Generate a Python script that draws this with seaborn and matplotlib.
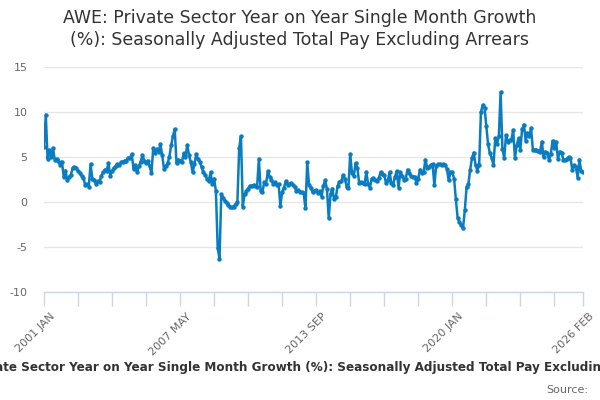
import numpy as np
import pandas as pd
import matplotlib
matplotlib.use('Agg')
import matplotlib.pyplot as plt
import seaborn as sns

# ==========================================
# data
# ==========================================
title = "AWE: Private Sector Year on Year Single Month Growth\n(%): Seasonally Adjusted Total Pay Excluding Arrears"
x_title = "AWE: Private Sector Year on Year Single Month Growth (%): Seasonally Adjusted Total Pay Excluding Arrears"
source_text = "Source:"

start_month = "2001-01"

values = [
    # 2001
    6.1, 9.7, 4.8, 5.8, 5.0, 6.0, 4.7, 4.8, 4.6, 4.1, 4.5, 2.8,
    # 2002
    3.5, 2.4, 2.8, 3.0, 3.8, 3.9, 3.8, 3.4, 3.2, 2.9, 2.7, 1.9,
    # 2003
    2.0, 1.7, 4.2, 2.6, 2.5, 2.0, 2.3, 2.2, 2.9, 3.3, 3.6, 3.5,
    # 2004
    4.3, 2.9, 3.5, 3.8, 4.0, 4.2, 4.1, 4.4, 4.5, 4.6, 4.6, 4.9,
    # 2005
    4.9, 5.3, 3.7, 4.1, 3.3, 4.0, 4.5, 5.2, 4.6, 4.3, 4.6, 4.0,
    # 2006
    3.2, 6.0, 5.5, 5.9, 5.6, 6.4, 5.2, 3.7, 4.0, 4.3, 5.0, 6.3,
    # 2007
    7.3, 8.1, 4.3, 4.7, 4.6, 4.4, 5.4, 5.0, 6.3, 5.2, 4.4, 3.3,
    # 2008
    4.2, 5.3, 4.8, 4.5, 3.9, 3.3, 3.0, 2.6, 2.3, 3.3, 2.0, 2.6,
    # 2009
    1.2, -5.1, -6.3, 0.85, 0.5, 0.1, -0.1, -0.3, -0.6, -0.6, -0.5, -0.2,
    # 2010
    0.0, 6.0, 7.3, -0.5, 0.85, 1.2, 1.5, 1.8, 1.8, 1.9, 1.8, 1.7,
    # 2011
    4.8, 1.2, 1.1, 2.2, 2.0, 3.4, 2.8, 2.5, 2.0, 2.2, 1.9, 2.0,
    # 2012
    -0.4, 1.1, 1.6, 2.3, 1.9, 2.0, 2.1, 1.9, 1.7, 1.2, 1.3, 1.1,
    # 2013
    1.1, 1.0, -0.7, 4.4, 1.9, 1.6, 1.1, 1.2, 1.3, 1.0, 1.2, 0.6,
    # 2014
    1.8, 2.4, 1.5, -1.8, 0.9, 1.5, 0.3, 0.6, 1.8, 2.2, 2.3, 3.0,
    # 2015
    2.6, 1.7, 1.6, 5.3, 3.2, 2.9, 4.3, 3.8, 2.1, 2.2, 2.1, 2.0,
    # 2016
    3.3, 2.0, 1.6, 2.6, 2.7, 2.5, 2.3, 2.7, 3.3, 3.1, 3.0, 2.1,
    # 2017
    2.4, 3.3, 2.1, 1.9, 2.8, 3.4, 1.6, 3.3, 2.9, 2.5, 2.6, 3.6,
    # 2018
    3.2, 2.9, 2.8, 2.8, 2.1, 2.6, 3.6, 3.2, 3.3, 4.7, 3.8, 3.9,
    # 2019
    4.1, 4.2, 1.9, 4.0, 4.2, 4.2, 4.1, 4.2, 4.1, 3.7, 2.4, 3.3,
    # 2020
    3.3, 2.6, 0.3, -1.8, -2.2, -2.6, -2.9, -0.9, 1.7, 2.0, 3.6, 4.9,
    # 2021
    5.5, 4.1, 3.5, 4.1, 10.0, 10.8, 10.5, 8.5, 6.4, 5.4, 4.9, 4.1,
    # 2022
    7.1, 6.5, 7.3, 12.2, 5.9, 4.9, 7.4, 6.7, 6.9, 6.9, 8.0, 4.9,
    # 2023
    6.3, 7.1, 5.8, 8.1, 8.6, 6.8, 7.7, 7.3, 8.2, 5.8, 5.8, 5.8,
    # 2024
    5.7, 5.6, 6.7, 5.0, 5.6, 5.5, 4.7, 5.3, 6.8, 6.0, 6.7, 4.8,
    # 2025
    5.6, 5.5, 4.7, 4.7, 4.8, 5.0, 4.9, 3.6, 4.1, 3.9, 2.7, 4.7,
    # 2026
    3.4, 3.3,
]

y_ticks = [-10, -5, 0, 5, 10, 15]
minor_step = 19
label_step = 76

# ==========================================
# build frame
# ==========================================
months = pd.date_range(start_month, periods=len(values), freq='MS')
month_labels = [m.strftime('%Y %b').upper() for m in months]
df = pd.DataFrame({'idx': np.arange(len(values)), 'value': values})

line_color = '#0a7dc2'
text_color = '#666666'

sns.set_style('white')
plt.rcParams['font.family'] = ['DejaVu Sans']

fig = plt.figure(figsize=(6, 4), dpi=100)
ax = fig.add_axes([44 / 600, 1 - 292 / 400, (583 - 44) / 600, (292 - 67) / 400])

sns.lineplot(data=df, x='idx', y='value', ax=ax, color=line_color,
             linewidth=1.8, marker='o', markersize=3.2, markeredgewidth=0)

# axes
last = len(values) - 1
ax.set_xlim(0, last)
ax.set_ylim(y_ticks[0], y_ticks[-1])
ax.set_yticks(y_ticks)
ax.set_yticklabels([str(t) for t in y_ticks], color=text_color, fontsize=8)
ax.yaxis.grid(True, color='#e6e6e6', linewidth=1)
ax.tick_params(axis='y', left=False, length=0, pad=12)

tick_pos = list(range(0, last, minor_step)) + [last]
ax.set_xticks(tick_pos)
ax.set_xticklabels([])
ax.tick_params(axis='x', bottom=True, length=10, width=1, color='#ccd6eb',
               direction='out')
lbl_pos = list(range(0, last, label_step)) + [last]
for p in lbl_pos:
    ax.annotate(month_labels[p], xy=(p, 0), xycoords=('data', 'axes fraction'),
                xytext=(4, -14), textcoords='offset points', rotation=45,
                ha='right', va='top', fontsize=8, color=text_color,
                rotation_mode='anchor')

ax.set_xlabel('')
ax.set_ylabel('')
for s in ['top', 'right', 'left']:
    ax.spines[s].set_visible(False)
ax.spines['bottom'].set_color('#ccd6eb')
ax.spines['bottom'].set_linewidth(1)

# titles
fig.text(0.5, 1 - 29 / 400, title, ha='center', va='center',
         fontsize=12.5, color='#333333', linespacing=1.25)
# the axis title is wider than the figure, as in the reference
fig.text(0.494, 1 - 368 / 400, x_title, ha='center', va='center',
         fontsize=8.65, fontweight='bold', color='#333333')
fig.text(588 / 600, 1 - 390 / 400, source_text, ha='right', va='center',
         fontsize=8, color=text_color)

fig.savefig('out.png', dpi=100)
